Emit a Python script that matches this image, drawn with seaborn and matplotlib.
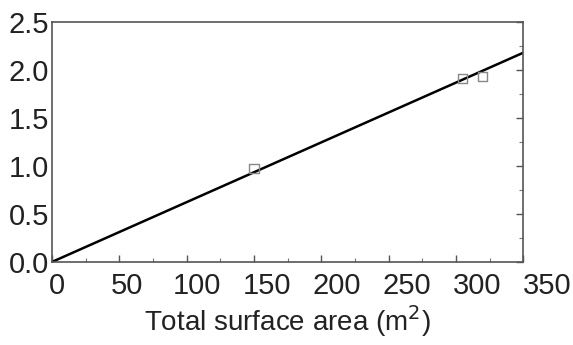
import numpy as np
import pandas as pd
import matplotlib
matplotlib.use("Agg")
import matplotlib.pyplot as plt
import seaborn as sns
from matplotlib.ticker import MultipleLocator

# datos
area_pts = [150, 305, 320]
valor_pts = [0.97, 1.91, 1.93]

# recta de ajuste
area_fit = [0, 350]
valor_fit = [0.0, 2.18]

x_ticks = [0, 50, 100, 150, 200, 250, 300, 350]
y_ticks = [0.0, 0.5, 1.0, 1.5, 2.0, 2.5]

sns.set_style("white")
plt.rcParams['font.family'] = ['Liberation Sans', 'DejaVu Sans']

fig = plt.figure(figsize=(5.73, 3.45), dpi=100)
ax = fig.add_axes([0.091, 0.241, 0.822, 0.695])

df_fit = pd.DataFrame({'area': area_fit, 'valor': valor_fit})
df_pts = pd.DataFrame({'area': area_pts, 'valor': valor_pts})

sns.lineplot(data=df_fit, x='area', y='valor', color='black', linewidth=1.8, ax=ax)
sns.scatterplot(data=df_pts, x='area', y='valor', marker='s', s=45,
                facecolor='none', edgecolor='#888888', linewidth=1.0, ax=ax, zorder=3)

ax.set_xlim(0, 350)
ax.set_ylim(0, 2.5)
ax.set_xticks(x_ticks)
ax.set_yticks(y_ticks)
ax.set_yticklabels([f"{v:.1f}" for v in y_ticks])
ax.xaxis.set_minor_locator(MultipleLocator(25))
ax.yaxis.set_minor_locator(MultipleLocator(0.25))

for s in ax.spines.values():
    s.set_color('#555555')
    s.set_linewidth(1.2)

ax.tick_params(axis='both', which='major', direction='in', length=5, width=1,
               color='#555555', labelsize=21, labelcolor='#222222')
ax.tick_params(axis='y', which='major', pad=2)
ax.tick_params(axis='both', which='minor', direction='in', length=3, width=0.8,
               color='#777777')
ax.tick_params(axis='y', which='both', right=True)
ax.tick_params(axis='x', which='both', bottom=True, top=False, labelbottom=False)

ax.set_xlabel('Total surface area (m$^2$)', fontsize=20, color='#222222', labelpad=30)
ax.set_ylabel('')

# en la figura original las etiquetas del eje x estan algo mas abiertas que las marcas
ax_lab = fig.add_axes([0.0995, 0.241, 0.855, 0.001])
ax_lab.set_xlim(0, 350)
ax_lab.set_xticks(x_ticks)
ax_lab.set_yticks([])
ax_lab.patch.set_visible(False)
for s in ax_lab.spines.values():
    s.set_visible(False)
ax_lab.tick_params(axis='x', length=0, labelsize=21, labelcolor='#222222', pad=7)

fig.savefig('out.png', dpi=100)
